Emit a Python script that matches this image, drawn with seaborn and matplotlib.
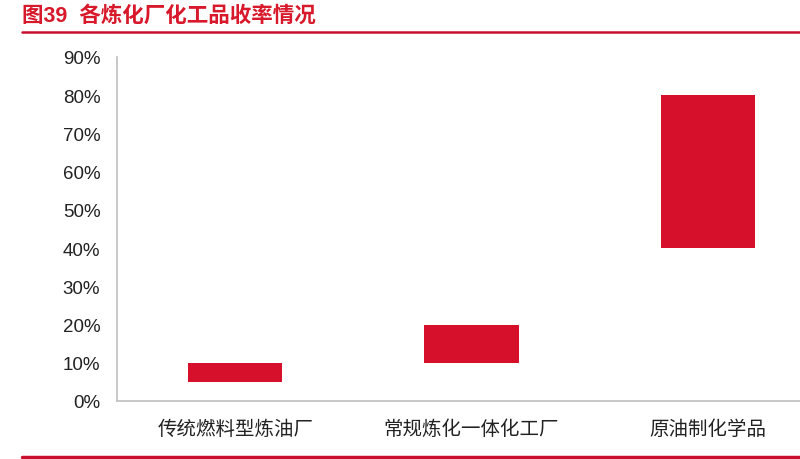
import matplotlib
matplotlib.use("Agg")
import matplotlib.pyplot as plt
import seaborn as sns
import pandas as pd

categories = ["传统燃料型炼油厂", "常规炼化一体化工厂", "原油制化学品"]
low = [5, 10, 40]
high = [10, 20, 80]
yticks = [0, 10, 20, 30, 40, 50, 60, 70, 80, 90]
title = "图39  各炼化厂化工品收率情况"

sns.set_theme(style="white")
plt.rcParams['font.family'] = ['Liberation Sans', 'Noto Sans CJK SC', 'DejaVu Sans']

df = pd.DataFrame({"cat": categories, "low": low, "high": high})
df["span"] = df["high"] - df["low"]

fig = plt.figure(figsize=(8, 4.6), dpi=100)
ax = fig.add_axes([117/800, 1-402/460, (826-117)/800, (402-58)/460])

red = "#D6102B"
sns.barplot(data=df, x="cat", y="span", bottom=df["low"].values, color=red,
            width=0.4, saturation=1, ax=ax, edgecolor="none", linewidth=0)

ax.set_ylim(0, 90)
ax.set_xlim(-0.5, 2.5)
ax.set_yticks(yticks)
ax.set_yticklabels([f"{v}%" for v in yticks], fontsize=13.5, color="#222222")
ax.set_xticks([-0.5, 0.5, 1.5, 2.5])
ax.set_xticklabels([])
ax.set_xticks([0, 1, 2], minor=True)
ax.set_xticklabels(categories, minor=True, fontsize=14, color="#222222",
                   family=['Noto Sans CJK SC', 'DejaVu Sans'])
ax.tick_params(axis="x", which="minor", length=0, pad=12)
ax.tick_params(axis="x", which="major", length=5, color="#bfbfbf", width=1, direction="out")
ax.tick_params(axis="y", length=5, color="#bfbfbf", width=1, direction="out", pad=7)
ax.set_xlabel("")
ax.set_ylabel("")
for s in ["top", "right"]:
    ax.spines[s].set_visible(False)
for s in ["left", "bottom"]:
    ax.spines[s].set_color("#bfbfbf")
    ax.spines[s].set_linewidth(1.2)

fig.text(22/800, 1-16/460, title, fontsize=15.5, fontweight="bold", color="#D7192B",
         va="center", ha="left", family=['Liberation Sans', 'Noto Sans CJK SC'])
fig.add_artist(plt.Line2D([22/800, 1], [1-33/460, 1-33/460], color="#C8102E", lw=1.8,
                          transform=fig.transFigure))
fig.add_artist(plt.Line2D([22/800, 1], [1-458/460, 1-458/460], color="#C8102E", lw=2.5,
                          transform=fig.transFigure))

fig.savefig("out.png", dpi=100)
